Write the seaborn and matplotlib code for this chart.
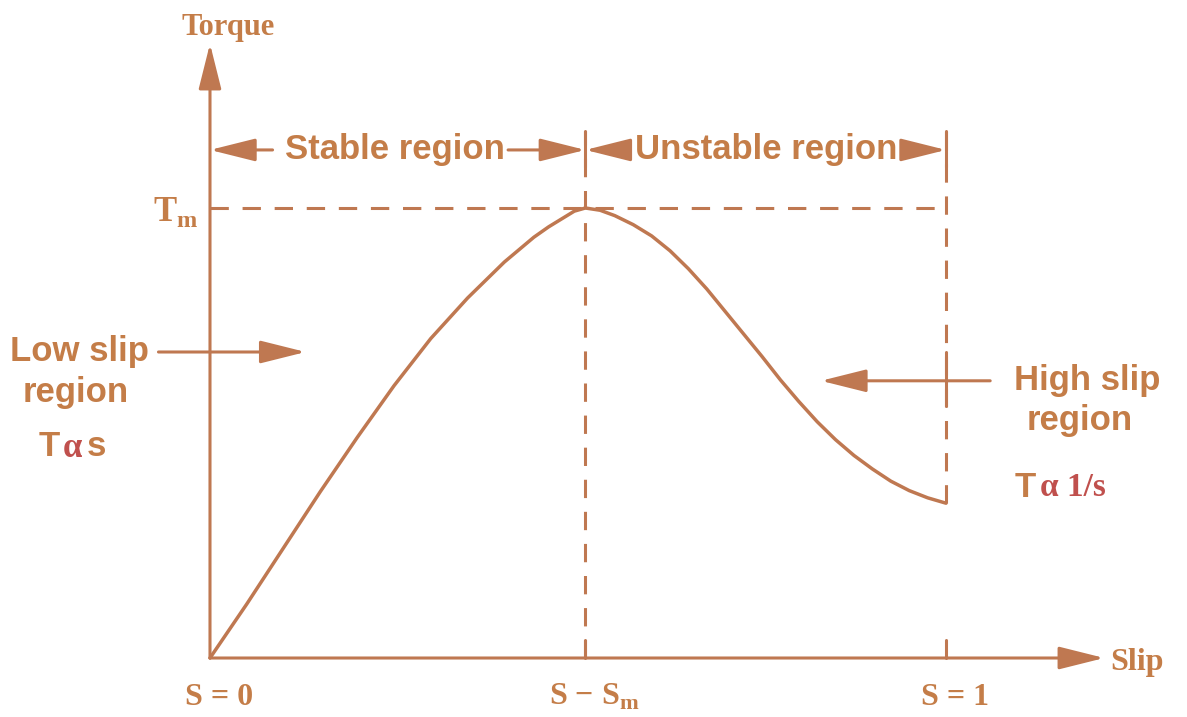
import matplotlib
matplotlib.use("Agg")
import matplotlib.pyplot as plt
import pandas as pd
import seaborn as sns

# torque-slip curve (torque relative to Tm)
slip = [0.0, 0.05, 0.10, 0.15, 0.20, 0.25, 0.30, 0.35, 0.40, 0.44, 0.46, 0.48,
        0.495, 0.51, 0.53, 0.55, 0.575, 0.60, 0.625, 0.65, 0.675, 0.70, 0.725,
        0.75, 0.775, 0.80, 0.825, 0.85, 0.875, 0.90, 0.925, 0.95, 0.975, 1.0]
torque = [0.0, 0.12, 0.245, 0.37, 0.49, 0.605, 0.71, 0.80, 0.88, 0.935, 0.958, 0.978,
          0.993, 1.0, 0.995, 0.983, 0.963, 0.938, 0.905, 0.865, 0.82, 0.77, 0.72,
          0.67, 0.618, 0.57, 0.525, 0.485, 0.45, 0.42, 0.393, 0.372, 0.356, 0.344]
s_m = 0.51
t_m = 1.0
x_labels = ["S = 0", "S \u2212 S$_{\\mathbf{m}}$", "S = 1"]
x_label_pos = [0.0, s_m, 1.0]

line_c = "#BF7851"
text_c = "#C47D48"
red_c = "#C0504D"

sns.set_theme(style="white")
plt.rcParams["mathtext.fontset"] = "custom"
plt.rcParams["mathtext.rm"] = "Liberation Serif:bold"
plt.rcParams["mathtext.bf"] = "Liberation Serif:bold"

fig = plt.figure(figsize=(11.87, 7.17), dpi=100)
ax = fig.add_axes([0, 0, 1, 1])
ax.set_xlim(-0.2853, 1.3274)
ax.set_ylim(-0.1311, 1.4622)
ax.axis("off")

df = pd.DataFrame({"slip": slip, "torque": torque})
sns.lineplot(data=df, x="slip", y="torque", ax=ax, color=line_c, linewidth=2.5)

lw = 2.2
head = dict(arrowstyle="-|>,head_length=2.8,head_width=0.7", mutation_scale=10,
            color=line_c, lw=lw, shrinkA=0, shrinkB=0)

# axes with arrows
ax.annotate("", xy=(0, 1.365), xytext=(0, 0), arrowprops=head)
ax.annotate("", xy=(1.215, 0), xytext=(0, 0), arrowprops=head)

# dashed guides
dash = dict(color=line_c, lw=lw, linestyle=(0, (6, 4.5)))
ax.plot([0, 1.0], [t_m, t_m], **dash)
ax.plot([s_m, s_m], [0, 1.17], **dash)
ax.plot([1.0, 1.0], [torque[-1], 1.17], **dash)
for xv in [s_m, 1.0]:
    ax.plot([xv, xv], [1.09, 1.17], color=line_c, lw=lw)
ax.plot([s_m, s_m], [0, 0.04], color=line_c, lw=lw)
ax.plot([1.0, 1.0], [0, 0.04], color=line_c, lw=lw)
ax.plot([1.0, 1.0], [0.56, 0.68], color=line_c, lw=lw)

# region arrows along the top
y_reg = 1.129
ax.annotate("", xy=(0, y_reg), xytext=(0.085, y_reg), arrowprops=head)
ax.annotate("", xy=(s_m, y_reg), xytext=(0.405, y_reg), arrowprops=head)
ax.annotate("", xy=(s_m, y_reg), xytext=(0.57, y_reg), arrowprops=head)
ax.annotate("", xy=(1.0, y_reg), xytext=(0.94, y_reg), arrowprops=head)

sans = dict(family="Liberation Sans", fontweight="bold", fontsize=25, color=text_c)
serif = dict(family="Liberation Serif", fontweight="bold", color=text_c)

ax.text(0.2515, y_reg, "Stable region", ha="center", va="center", **sans)
ax.text(0.756, y_reg, "Unstable region", ha="center", va="center", **sans)

# low / high slip arrows
ax.annotate("", xy=(0.13, 0.68), xytext=(-0.07, 0.68), arrowprops=head)
ax.annotate("", xy=(0.83, 0.616), xytext=(1.06, 0.616), arrowprops=head)

ax.text(-0.177, 0.68, "Low slip", ha="center", va="center", **sans)
ax.text(-0.182, 0.589, "region", ha="center", va="center", **sans)
ax.text(-0.233, 0.469, "T", ha="left", va="center", **sans)
ax.text(-0.200, 0.466, "\u03b1", ha="left", va="center", family="Liberation Serif",
        fontweight="bold", fontsize=25, color=red_c)
ax.text(-0.167, 0.469, "s", ha="left", va="center", **sans)

ax.text(1.192, 0.616, "High slip", ha="center", va="center", **sans)
ax.text(1.181, 0.527, "region", ha="center", va="center", **sans)
ax.text(1.093, 0.38, "T", ha="left", va="center", **sans)
ax.text(1.128, 0.38, "\u03b1 1/s", ha="left", va="center", family="Liberation Serif",
        fontweight="bold", fontsize=24, color=red_c)

# axis labels
ax.text(0.0245, 1.40, "Torque", ha="center", va="center", fontsize=22, **serif)
ax.text(1.223, -0.009, "Slip", ha="left", va="center", fontsize=23, **serif)
ax.text(-0.047, 0.99, "T$_{\\mathbf{m}}$", ha="center", va="center", fontsize=25, **serif)
for xv, lab in zip(x_label_pos, x_labels):
    ax.text(xv + 0.012, -0.087, lab, ha="center", va="center", fontsize=23, **serif)

fig.savefig("out.png", dpi=100, facecolor="white")
